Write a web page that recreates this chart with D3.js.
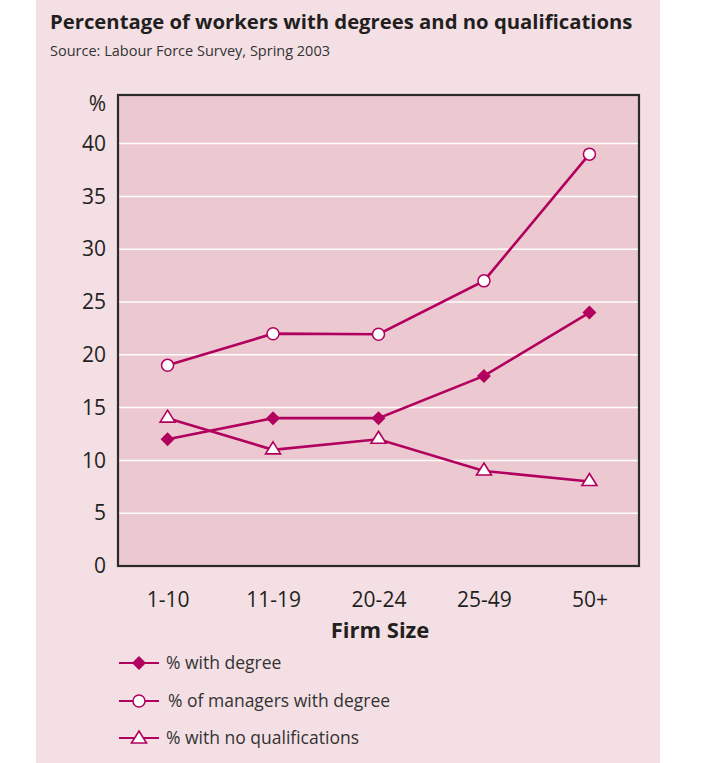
<!DOCTYPE html>
<html>
<head>
<meta charset="utf-8">
<script src="https://cdn.jsdelivr.net/npm/d3@7"></script>
<style>
  body { margin: 0; background: #fff; }
  svg { display: block; font-family: "Open Sans", sans-serif; }
</style>
</head>
<body>
<svg></svg>
<script>
var categories = ["1-10", "11-19", "20-24", "25-49", "50+"];
var withDegree = [12, 14, 14, 18, 24];
var managersDegree = [19, 22, 21.95, 27, 39];
var noQualifications = [14, 11, 12, 9, 8];
var yTicks = [0, 5, 10, 15, 20, 25, 30, 35, 40];

var width = 702, height = 763;
var margin = {top: 95, right: 63, bottom: 197, left: 118};
var plotW = width - margin.left - margin.right;
var plotH = height - margin.top - margin.bottom;
var magenta = "#b1005d";
var ink = "#231f20";

var svg = d3.select("svg")
    .attr("width", width)
    .attr("height", height);

// pink panel
svg.append("rect")
    .attr("x", 36).attr("y", 0)
    .attr("width", 624).attr("height", height)
    .attr("fill", "#f3dfe4");

svg.append("text")
    .attr("x", 50).attr("y", 29)
    .attr("font-size", 20.3)
    .attr("font-weight", "bold")
    .attr("fill", ink)
    .text("Percentage of workers with degrees and no qualifications");

svg.append("text")
    .attr("x", 50).attr("y", 56)
    .attr("font-size", 14.5)
    .attr("fill", "#333")
    .text("Source: Labour Force Survey, Spring 2003");

var g = svg.append("g")
    .attr("transform", "translate(" + margin.left + "," + margin.top + ")");

var x = d3.scalePoint()
    .domain(categories)
    .range([0, plotW])
    .padding(0.47);

var y = d3.scaleLinear()
    .domain([0, 44.6])
    .range([plotH, 0]);

g.append("rect")
    .attr("width", plotW).attr("height", plotH)
    .attr("fill", "#ecc8d1");

// gridlines
g.selectAll(".grid")
    .data(yTicks.filter(function(d) { return d > 0; }))
    .enter().append("line")
    .attr("class", "grid")
    .attr("x1", 0).attr("x2", plotW)
    .attr("y1", function(d) { return y(d); })
    .attr("y2", function(d) { return y(d); })
    .attr("stroke", "#fff")
    .attr("stroke-width", 1.5);

g.append("rect")
    .attr("width", plotW).attr("height", plotH)
    .attr("fill", "none")
    .attr("stroke", "#2b2b2b")
    .attr("stroke-width", 2.2);

// y axis labels
var yAxis = g.append("g")
    .call(d3.axisLeft(y).tickValues(yTicks).tickSize(0).tickPadding(12));
yAxis.select(".domain").remove();
yAxis.selectAll("text")
    .attr("font-size", 21)
    .attr("font-family", "Open Sans, sans-serif")
    .attr("fill", ink);

g.append("text")
    .attr("x", -12).attr("y", 16)
    .attr("text-anchor", "end")
    .attr("font-size", 21)
    .attr("fill", ink)
    .text("%");

// x axis labels
var xAxis = g.append("g")
    .attr("transform", "translate(0," + plotH + ")")
    .call(d3.axisBottom(x).tickSize(0).tickPadding(26));
xAxis.select(".domain").remove();
xAxis.selectAll("text")
    .attr("font-size", 21)
    .attr("font-family", "Open Sans, sans-serif")
    .attr("fill", ink);

svg.append("text")
    .attr("x", 380).attr("y", 638)
    .attr("text-anchor", "middle")
    .attr("font-size", 22)
    .attr("font-weight", "bold")
    .attr("fill", ink)
    .text("Firm Size");

var line = d3.line()
    .x(function(d, i) { return x(categories[i]); })
    .y(function(d) { return y(d); });

var series = [
    {name: "% with degree", values: withDegree, marker: "diamond"},
    {name: "% of managers with degree", values: managersDegree, marker: "circle"},
    {name: "% with no qualifications", values: noQualifications, marker: "triangle"}
];

function drawMarker(sel, type) {
    if (type === "diamond") {
        sel.append("path")
            .attr("d", "M0,-7L7,0L0,7L-7,0Z")
            .attr("fill", magenta);
    } else if (type === "circle") {
        sel.append("circle")
            .attr("r", 6)
            .attr("fill", "#fff")
            .attr("stroke", magenta)
            .attr("stroke-width", 1.5);
    } else {
        sel.append("path")
            .attr("d", "M0,-7L7.5,5L-7.5,5Z")
            .attr("fill", "#fff")
            .attr("stroke", magenta)
            .attr("stroke-width", 1.6);
    }
}

series.forEach(function(s) {
    g.append("path")
        .datum(s.values)
        .attr("d", line)
        .attr("fill", "none")
        .attr("stroke", magenta)
        .attr("stroke-width", 2.6);
});

series.forEach(function(s) {
    g.selectAll(".m-" + s.marker)
        .data(s.values)
        .enter().append("g")
        .attr("class", "m-" + s.marker)
        .attr("transform", function(d, i) {
            var dy = s.marker === "triangle" ? -1 : 0;
            return "translate(" + x(categories[i]) + "," + (y(d) + dy) + ")";
        })
        .each(function() { drawMarker(d3.select(this), s.marker); });
});

// legend
var legend = svg.selectAll(".legend")
    .data(series)
    .enter().append("g")
    .attr("class", "legend")
    .attr("transform", function(d, i) { return "translate(119," + [663, 701, 738][i] + ")"; });

legend.append("line")
    .attr("x1", 0).attr("x2", 40)
    .attr("stroke", magenta)
    .attr("stroke-width", 1.8);

legend.each(function(d) {
    var m = d3.select(this).append("g").attr("transform", "translate(20,0)");
    drawMarker(m, d.marker);
});

legend.append("text")
    .attr("x", function(d, i) { return i === 1 ? 49 : 47; })
    .attr("y", 6)
    .attr("font-size", 17.5)
    .attr("fill", "#333")
    .text(function(d) { return d.name; });
</script>
</body>
</html>
